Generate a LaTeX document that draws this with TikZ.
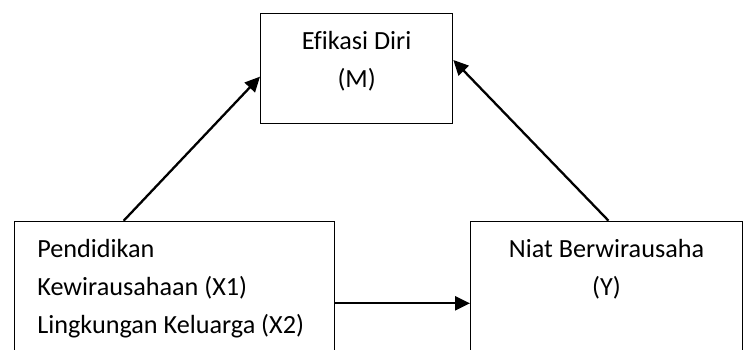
\documentclass[tikz,border=0pt]{standalone}
\usepackage{fontspec}
\setmainfont{Carlito}[Ligatures = NoCommon]
\usetikzlibrary{arrows.meta}

\begin{document}
\begin{tikzpicture}[x = 1bp, y = -1bp,
    box/.style = {draw, line width = 1.3bp, inner xsep = 0pt, inner ysep = 0pt, anchor = north west, font = \fontsize{26.3}{38.1}\selectfont},
    arr/.style = {-{Triangle[length = 15bp, width = 14bp]}, line width = 2.3bp}]
    \clip (0,0) rectangle (748,349);
    \node[box, minimum width = 192bp, align = center, text height = 74.6bp, text depth = 35.4bp] (effic) at (260,12.7) {Efikasi Diri\\(M)};
    \node[box, text width = 274.6bp, inner xsep = 22.7bp, align = flush left, text height = 36.6bp, text depth = 150bp] (pend) at (14,220.7) {Pendidikan\\Kewirausahaan (X1)\\Lingkungan Keluarga (X2)};
    \node[box, minimum width = 271.7bp, align = center, text height = 74.3bp, text depth = 80bp] (niat) at (470,220.7) {Niat Berwirausaha\\(Y)};
    \draw[arr] ([xshift = 109.7bp]pend.north west) -- ([yshift = -8.3bp]effic.west);
    \draw[arr] ([xshift = 2bp]niat.north) -- ([yshift = 8.4bp]effic.east);
    \draw[arr] ([yshift = -82.6bp]pend.north east) -- ([yshift = -82.6bp]niat.north west);
\end{tikzpicture}
\end{document}
